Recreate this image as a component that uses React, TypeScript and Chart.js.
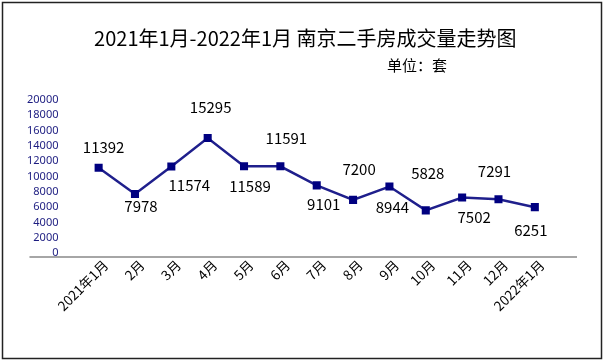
import React, { useEffect, useRef } from 'react';
import { Chart, registerables } from 'chart.js';

Chart.register(...registerables);

const categories = ['2021年1月', '2月', '3月', '4月', '5月', '6月', '7月', '8月', '9月', '10月', '11月', '12月', '2022年1月'];
const volumes = [11392, 7978, 11574, 15295, 11589, 11591, 9101, 7200, 8944, 5828, 7502, 7291, 6251];
const yMin = 0;
const yMax = 20000;
const yStep = 2000;
const titleText = '2021年1月-2022年1月 南京二手房成交量走势图';
const unitText = '单位：套';

// data-label placement (style only): offsets from each point in px
const labelDx = [5, 6, 18, 3, 6, 6, 7, 6, 3, 2, 12, -4, -4];
const labelDy = [-21, 12, 19, -31, 20, -28, 19, -31, 21, -37, 20, -28, 23];

const CJK = '"Noto Sans CJK SC", "Noto Sans", sans-serif';

const decor = {
  id: 'decor',
  beforeDraw(chart: any) {
    const { ctx, width, height } = chart;
    ctx.save();
    ctx.fillStyle = '#ffffff';
    ctx.fillRect(0, 0, width, height);
    ctx.restore();
  },
  afterDraw(chart: any) {
    const { ctx, chartArea, scales, width } = chart;
    ctx.save();
    // category axis line
    const y0 = scales.y.getPixelForValue(0) + 2;
    ctx.strokeStyle = '#a6a6a6';
    ctx.lineWidth = 2;
    ctx.beginPath();
    ctx.moveTo(chartArea.left - 51, y0);
    ctx.lineTo(chartArea.right + 24, y0);
    ctx.stroke();

    // data labels
    const meta = chart.getDatasetMeta(0);
    ctx.fillStyle = '#000000';
    ctx.font = `15px ${CJK}`;
    ctx.textAlign = 'center';
    ctx.textBaseline = 'middle';
    meta.data.forEach((pt: any, i: number) => {
      ctx.fillText(String(volumes[i]), pt.x + labelDx[i], pt.y + labelDy[i]);
    });

    // title & unit
    ctx.font = `20px ${CJK}`;
    ctx.fillText(titleText, width * 0.503, 38);
    ctx.font = `15px ${CJK}`;
    ctx.textAlign = 'left';
    ctx.fillText(unitText, 387, 65);

    // outer border
    ctx.strokeStyle = '#222222';
    ctx.lineWidth = 1.5;
    ctx.strokeRect(2.5, 2.5, 599, 356);
    ctx.restore();
  },
};

export default function App() {
  const ref = useRef<HTMLCanvasElement | null>(null);

  useEffect(() => {
    document.body.style.margin = '0';
    if (!ref.current) return;
    const chart = new Chart(ref.current, {
      type: 'line',
      data: {
        labels: categories,
        datasets: [
          {
            data: volumes,
            borderColor: '#1f1f8c',
            borderWidth: 2.5,
            backgroundColor: '#000080',
            pointBackgroundColor: '#000080',
            pointBorderColor: '#000080',
            pointBorderWidth: 0,
            pointStyle: 'rect',
            pointRadius: 5.7,
            tension: 0,
            fill: false,
          },
        ],
      },
      options: {
        responsive: true,
        maintainAspectRatio: false,
        animation: false,
        layout: { padding: { left: 5, right: 54, top: 102, bottom: 48 } },
        plugins: {
          legend: { display: false },
          tooltip: { enabled: false },
          title: { display: false },
        },
        scales: {
          x: {
            offset: true,
            grid: { display: false, drawTicks: false },
            border: { display: false },
            ticks: {
              autoSkip: false,
              maxRotation: 45,
              minRotation: 45,
              padding: 2,
              labelOffset: 7,
              color: '#000000',
              font: { family: CJK, size: 13.5 },
            },
          },
          y: {
            min: yMin,
            max: yMax,
            grid: { display: false, drawTicks: false },
            border: { display: false },
            ticks: {
              stepSize: yStep,
              autoSkip: false,
              padding: 22,
              labelOffset: -2,
              color: '#1c1c80',
              font: { family: '"Noto Sans", sans-serif', size: 11 },
              callback: (v: any) => String(v),
            },
          },
        },
      },
      plugins: [decor],
    });
    return () => chart.destroy();
  }, []);

  return (
    <div style={{ position: 'fixed', left: 0, top: 0, width: 607, height: 364 }}>
      <canvas ref={ref} />
    </div>
  );
}
